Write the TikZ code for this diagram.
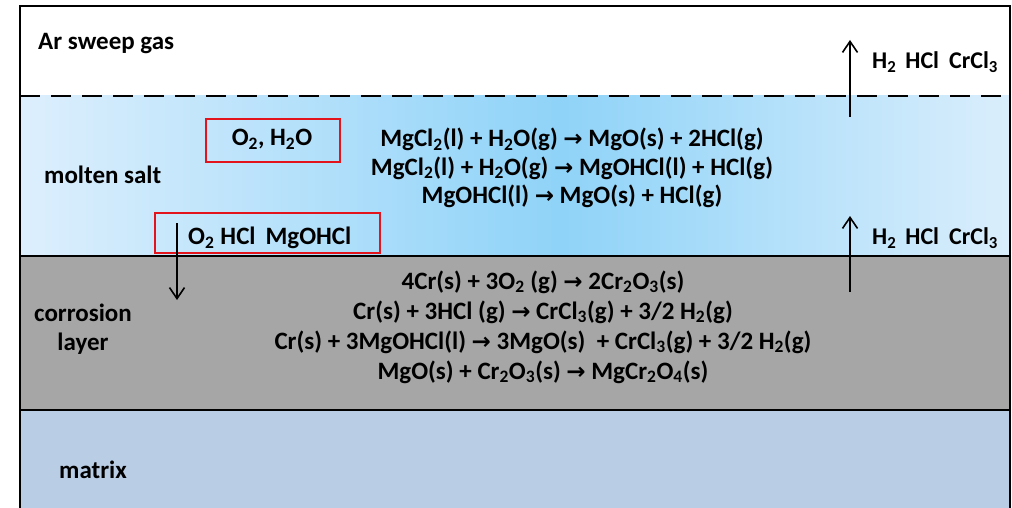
\documentclass[tikz,border=0pt]{standalone}
\usepackage{fontspec}
\setmainfont{Carlito}[BoldFont={* Bold}]
\newfontfamily\arrfont{DejaVu Sans}[BoldFont={* Bold}]
\usetikzlibrary{arrows.meta}
\newcommand{\sbs}[1]{\textsubscript{#1}}
\newcommand{\ra}{{\arrfont\bfseries\fontsize{23}{24}\selectfont →}}
\definecolor{greyl}{HTML}{A6A6A6}
\definecolor{matc}{HTML}{B9CDE5}
\definecolor{saltL}{HTML}{DDEFFD}
\definecolor{saltM}{HTML}{8FD3F8}
\definecolor{saltR}{HTML}{DAEEFC}
\definecolor{redb}{HTML}{E3141B}
\tikzset{
  txt/.style={font=\bfseries\fontsize{25}{28.5}\selectfont, inner sep=0pt, text=black},
  redbox/.style={draw=redb, line width=2pt},
  arr/.style={-{Straight Barb[length=11pt,width=15pt,line width=1.6pt]}, line width=1.6pt},
}
\begin{document}
\begin{tikzpicture}[x=1pt,y=-1pt]
\useasboundingbox (0,0) rectangle (1012,508);
\fill[white] (0,0) rectangle (1012,508);
% layers
\shade[left color=saltL, right color=saltM] (20,96) rectangle (560.5,256);
\shade[left color=saltM, right color=saltR] (560,96) rectangle (1010,256);
\fill[greyl] (20,256) rectangle (1010,410);
\fill[matc] (20,410) rectangle (1010,508);
\draw[line width=1.6pt] (20,508) -- (20,6) -- (1010,6) -- (1010,508);
\draw[line width=2pt] (20,256) -- (1010,256);
\draw[line width=2pt] (20,410) -- (1010,410);
\draw[line width=1.8pt, dash pattern=on 20pt off 11pt] (20,96) -- (1010,96);
% labels
\node[txt, anchor=west] (ar) at (38,44) {Ar sweep gas};
\node[txt, anchor=west] (ms) at (44,175) {molten salt};
\node[txt, align=center] (cl) at (83,329) {corrosion\\layer};
\node[txt, anchor=west] (mx) at (59,470) {matrix};
% red boxes
\node[redbox, minimum width=134pt, minimum height=43pt, inner sep=0pt] (rb1) at (273,140.5) {};
\node[txt] (t1) at (272,139) {O\sbs{2}, H\sbs{2}O};
\node[redbox, minimum width=225pt, minimum height=40pt, inner sep=0pt] (rb2) at (267.5,232.5) {};
\node[txt, anchor=west] (t2) at (188,238) {O\sbs{2}\hspace{6pt}HCl\hspace{10pt}MgOHCl};
% reactions
\node[txt, align=center] (rm) at (572,168) {MgCl\sbs{2}(l) + H\sbs{2}O(g) \ra{} MgO(s) + 2HCl(g)\\
MgCl\sbs{2}(l) + H\sbs{2}O(g) \ra{} MgOHCl(l) + HCl(g)\\
MgOHCl(l) \ra{} MgO(s) + HCl(g)};
\node[txt, align=center, font=\bfseries\fontsize{25}{30}\selectfont] (rc) at (543,327) {4Cr(s) + 3O\sbs{2} (g) \ra{} 2Cr\sbs{2}O\sbs{3}(s)\\
Cr(s) + 3HCl (g) \ra{} CrCl\sbs{3}(g) + 3/2 H\sbs{2}(g)\\
Cr(s) + 3MgOHCl(l) \ra{} 3MgO(s)\ \ + CrCl\sbs{3}(g) + 3/2 H\sbs{2}(g)\\
MgO(s) + Cr\sbs{2}O\sbs{3}(s) \ra{} MgCr\sbs{2}O\sbs{4}(s)};
% gas labels
\tikzset{gas/.style={txt, anchor=west, font=\bfseries\fontsize{24}{26}\selectfont}}
\node[gas] (g1) at (872,62) {H\sbs{2}\hspace{9pt}HCl\hspace{10pt}CrCl\sbs{3}};
\node[gas] (g2) at (872,238) {H\sbs{2}\hspace{9pt}HCl\hspace{10pt}CrCl\sbs{3}};
% arrows
\coordinate (d0) at (177,223);
\coordinate (d1) at (177,300);
\draw[arr] (d0) -- (d1);
\coordinate (u0) at (850,117);
\coordinate (u1) at (850,40);
\draw[arr] (u0) -- (u1);
\coordinate (v0) at (850,292);
\coordinate (v1) at (850,216);
\draw[arr] (v0) -- (v1);
\end{tikzpicture}
\end{document}
